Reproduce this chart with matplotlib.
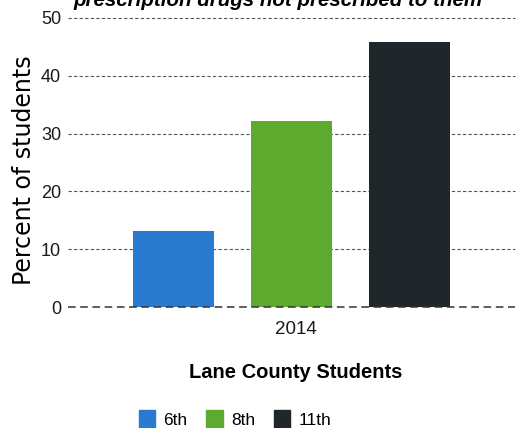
import matplotlib
matplotlib.use("Agg")
import matplotlib.pyplot as plt
from matplotlib.patches import Patch

# data
grades = ["6th", "8th", "11th"]
percent = [13.2, 32.2, 45.8]
year_label = "2014"
colors = ["#2a7ad0", "#5eaa2e", "#1f272b"]

fig = plt.figure(figsize=(5.21, 4.28), dpi=100)
ax = fig.add_axes([68 / 521, 1 - 307 / 428, 447 / 521, 289 / 428])

pos = [-1, 0, 1]
ax.bar(pos, percent, width=0.69, color=colors, zorder=3)

ax.set_xlim(-1.894, 1.894)
ax.set_ylim(0, 50)
ax.set_yticks([0, 10, 20, 30, 40, 50])
ax.set_xticks([0.04])
ax.set_xticklabels([year_label])
for y in [10, 20, 30, 40, 50]:
    ax.axhline(y, color="#555555", lw=0.8, ls=(0, (3, 2)), zorder=1, clip_on=False)
ax.axhline(0, color="#333333", lw=1.1, ls=(0, (5, 3)), zorder=4, clip_on=False)

for s in ax.spines.values():
    s.set_visible(False)
ax.tick_params(length=0, labelsize=13, pad=5, labelcolor="#1a1a1a")
ax.tick_params(axis="x", labelsize=13.5, pad=10)
for t in ax.get_xticklabels() + ax.get_yticklabels():
    t.set_family("Liberation Sans")

# y label placed by hand to sit where the reference has it
fig.text(24 / 521, 1 - 170 / 428, "Percent of students", rotation=90,
         ha="center", va="center", fontsize=17)
fig.text(296 / 521, 1 - 378 / 428, "Lane County Students", ha="center",
         va="baseline", fontsize=14.5, fontweight="bold", family="Liberation Sans")

# title is clipped by the top edge in the reference
fig.text(278 / 521, 1 - 6 / 428, "prescription drugs not prescribed to them",
         ha="center", va="baseline", fontsize=14.8, fontweight="bold",
         style="italic", family="Liberation Sans")

handles = [Patch(color=c, label=g) for c, g in zip(colors, grades)]
fig.legend(handles=handles, loc="center", bbox_to_anchor=(235 / 521, 1 - 419 / 428),
           ncol=3, frameon=False, handlelength=0.95, handleheight=1.2,
           handletextpad=0.45, columnspacing=1.1, borderpad=0,
           prop={"family": "Liberation Sans", "size": 12.5})

fig.savefig("out.png", dpi=100)
